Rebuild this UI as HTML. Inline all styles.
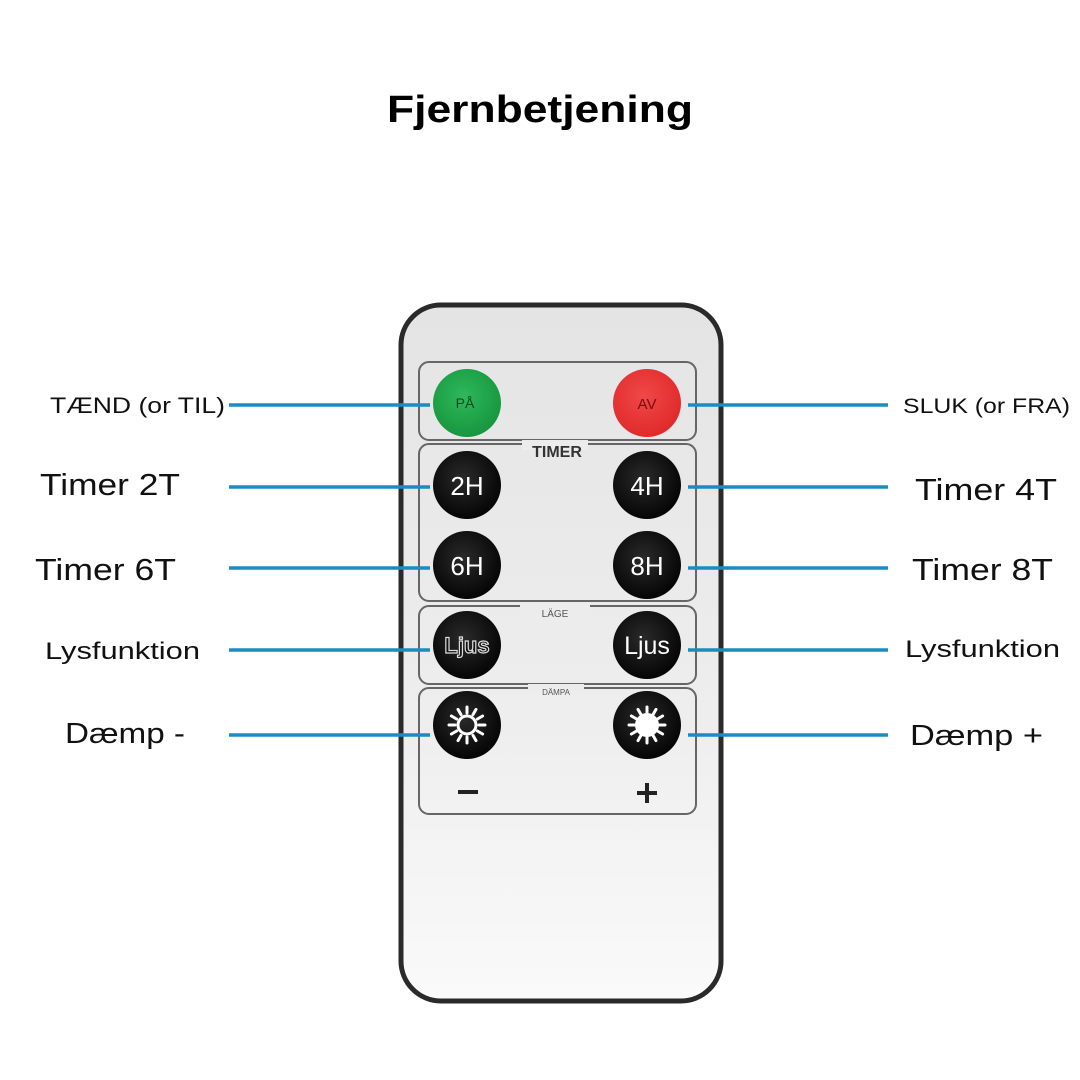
<!DOCTYPE html>
<html><head><meta charset="utf-8"><style>
html,body{margin:0;padding:0;background:#fff;}
svg{display:block;}
text{font-family:"Liberation Sans",sans-serif;}
</style></head><body>
<svg width="1080" height="1080" viewBox="0 0 1080 1080" xmlns="http://www.w3.org/2000/svg">
<defs>
<linearGradient id="body" x1="0" y1="0" x2="0" y2="1">
<stop offset="0" stop-color="#e4e4e4"/><stop offset="0.6" stop-color="#eeeeee"/><stop offset="1" stop-color="#fafafa"/>
</linearGradient>
<radialGradient id="blk" cx="0.45" cy="0.4" r="0.6">
<stop offset="0" stop-color="#2a2a2a"/><stop offset="1" stop-color="#050505"/>
</radialGradient>
<radialGradient id="grn" cx="0.45" cy="0.4" r="0.6">
<stop offset="0" stop-color="#2fb85a"/><stop offset="1" stop-color="#17963f"/>
</radialGradient>
<radialGradient id="red" cx="0.45" cy="0.4" r="0.6">
<stop offset="0" stop-color="#f04848"/><stop offset="1" stop-color="#e02a2a"/>
</radialGradient>
<g id="rays">
<g stroke="#fff" stroke-width="3" stroke-linecap="round">
<line x1="0" y1="-12" x2="0" y2="-18"/><line x1="0" y1="12" x2="0" y2="18"/>
<line x1="-12" y1="0" x2="-18" y2="0"/><line x1="12" y1="0" x2="18" y2="0"/>
<line x1="6" y1="-10.4" x2="9" y2="-15.6"/><line x1="-6" y1="-10.4" x2="-9" y2="-15.6"/>
<line x1="6" y1="10.4" x2="9" y2="15.6"/><line x1="-6" y1="10.4" x2="-9" y2="15.6"/>
<line x1="10.4" y1="6" x2="15.6" y2="9"/><line x1="-10.4" y1="6" x2="-15.6" y2="9"/>
<line x1="10.4" y1="-6" x2="15.6" y2="-9"/><line x1="-10.4" y1="-6" x2="-15.6" y2="-9"/>
</g></g>
</defs>

<text x="540" y="122" text-anchor="middle" font-size="38" font-weight="bold" textLength="306" lengthAdjust="spacingAndGlyphs" fill="#000">Fjernbetjening</text>

<!-- remote body -->
<rect x="401" y="305" width="320" height="696" rx="40" fill="url(#body)" stroke="#2a2a2a" stroke-width="5"/>

<!-- panels -->
<g fill="none" stroke="#666" stroke-width="2">
<rect x="419" y="362" width="277" height="78" rx="10"/>
<rect x="419" y="444" width="277" height="157" rx="10"/>
<rect x="419" y="606" width="277" height="78" rx="10"/>
<rect x="419" y="688" width="277" height="126" rx="10"/>
</g>
<rect x="522" y="440" width="66" height="10" fill="#ececec"/>
<text x="557" y="457" text-anchor="middle" font-size="16" font-weight="bold" fill="#333">TIMER</text>
<rect x="520" y="602" width="70" height="8" fill="#ececec"/>
<text x="555" y="617" text-anchor="middle" font-size="10" fill="#555">LÄGE</text>
<rect x="528" y="684" width="56" height="8" fill="#ececec"/>
<text x="556" y="695" text-anchor="middle" font-size="8" fill="#555">DÄMPA</text>

<!-- buttons -->
<circle cx="467" cy="403" r="34" fill="url(#grn)"/>
<text x="465" y="408" text-anchor="middle" font-size="14" fill="#0b4a1e">PÅ</text>
<circle cx="647" cy="403" r="34" fill="url(#red)"/>
<text x="647" y="409" text-anchor="middle" font-size="15" fill="#7a0d0d">AV</text>

<g font-size="26" fill="#fff" text-anchor="middle">
<circle cx="467" cy="485" r="34" fill="url(#blk)"/><text x="467" y="495">2H</text>
<circle cx="647" cy="485" r="34" fill="url(#blk)"/><text x="647" y="495">4H</text>
<circle cx="467" cy="565" r="34" fill="url(#blk)"/><text x="467" y="575">6H</text>
<circle cx="647" cy="565" r="34" fill="url(#blk)"/><text x="647" y="575">8H</text>
<circle cx="467" cy="645" r="34" fill="url(#blk)"/>
<text x="467" y="653" font-size="22" font-weight="bold" fill="#111" stroke="#ddd" stroke-width="1.2">Ljus</text>
<circle cx="647" cy="645" r="34" fill="url(#blk)"/><text x="647" y="654" font-size="25">Ljus</text>
</g>
<circle cx="467" cy="725" r="34" fill="url(#blk)"/>
<use href="#rays" x="467" y="725"/>
<circle cx="467" cy="725" r="9" fill="none" stroke="#fff" stroke-width="3"/>
<circle cx="647" cy="725" r="34" fill="url(#blk)"/>
<use href="#rays" x="647" y="725"/>
<circle cx="647" cy="725" r="12" fill="#fff"/>

<rect x="458" y="790" width="20" height="4" fill="#222"/>
<rect x="637" y="791" width="20" height="4" fill="#222"/>
<rect x="645" y="783" width="4" height="20" fill="#222"/>

<!-- connectors -->
<g stroke="#1b8bc2" stroke-width="3.5">
<line x1="229" y1="405" x2="430" y2="405"/>
<line x1="229" y1="487" x2="430" y2="487"/>
<line x1="229" y1="568" x2="430" y2="568"/>
<line x1="229" y1="650" x2="430" y2="650"/>
<line x1="229" y1="735" x2="430" y2="735"/>
<line x1="688" y1="405" x2="888" y2="405"/>
<line x1="688" y1="487" x2="888" y2="487"/>
<line x1="688" y1="568" x2="888" y2="568"/>
<line x1="688" y1="650" x2="888" y2="650"/>
<line x1="688" y1="735" x2="888" y2="735"/>
</g>

<!-- labels -->
<g fill="#111" lengthAdjust="spacingAndGlyphs">
<text x="50" y="413" font-size="22" textLength="175" lengthAdjust="spacingAndGlyphs">TÆND (or TIL)</text>
<text x="40" y="495" font-size="31" textLength="140" lengthAdjust="spacingAndGlyphs">Timer 2T</text>
<text x="35" y="580" font-size="31" textLength="141" lengthAdjust="spacingAndGlyphs">Timer 6T</text>
<text x="45" y="659" font-size="24" textLength="155" lengthAdjust="spacingAndGlyphs">Lysfunktion</text>
<text x="65" y="743" font-size="29" textLength="120" lengthAdjust="spacingAndGlyphs">Dæmp -</text>
<text x="903" y="413" font-size="21" textLength="167" lengthAdjust="spacingAndGlyphs">SLUK (or FRA)</text>
<text x="915" y="500" font-size="31" textLength="142" lengthAdjust="spacingAndGlyphs">Timer 4T</text>
<text x="912" y="580" font-size="31" textLength="141" lengthAdjust="spacingAndGlyphs">Timer 8T</text>
<text x="905" y="657" font-size="24" textLength="155" lengthAdjust="spacingAndGlyphs">Lysfunktion</text>
<text x="910" y="745" font-size="29" textLength="133" lengthAdjust="spacingAndGlyphs">Dæmp +</text>
</g>
</svg>
</body></html>
